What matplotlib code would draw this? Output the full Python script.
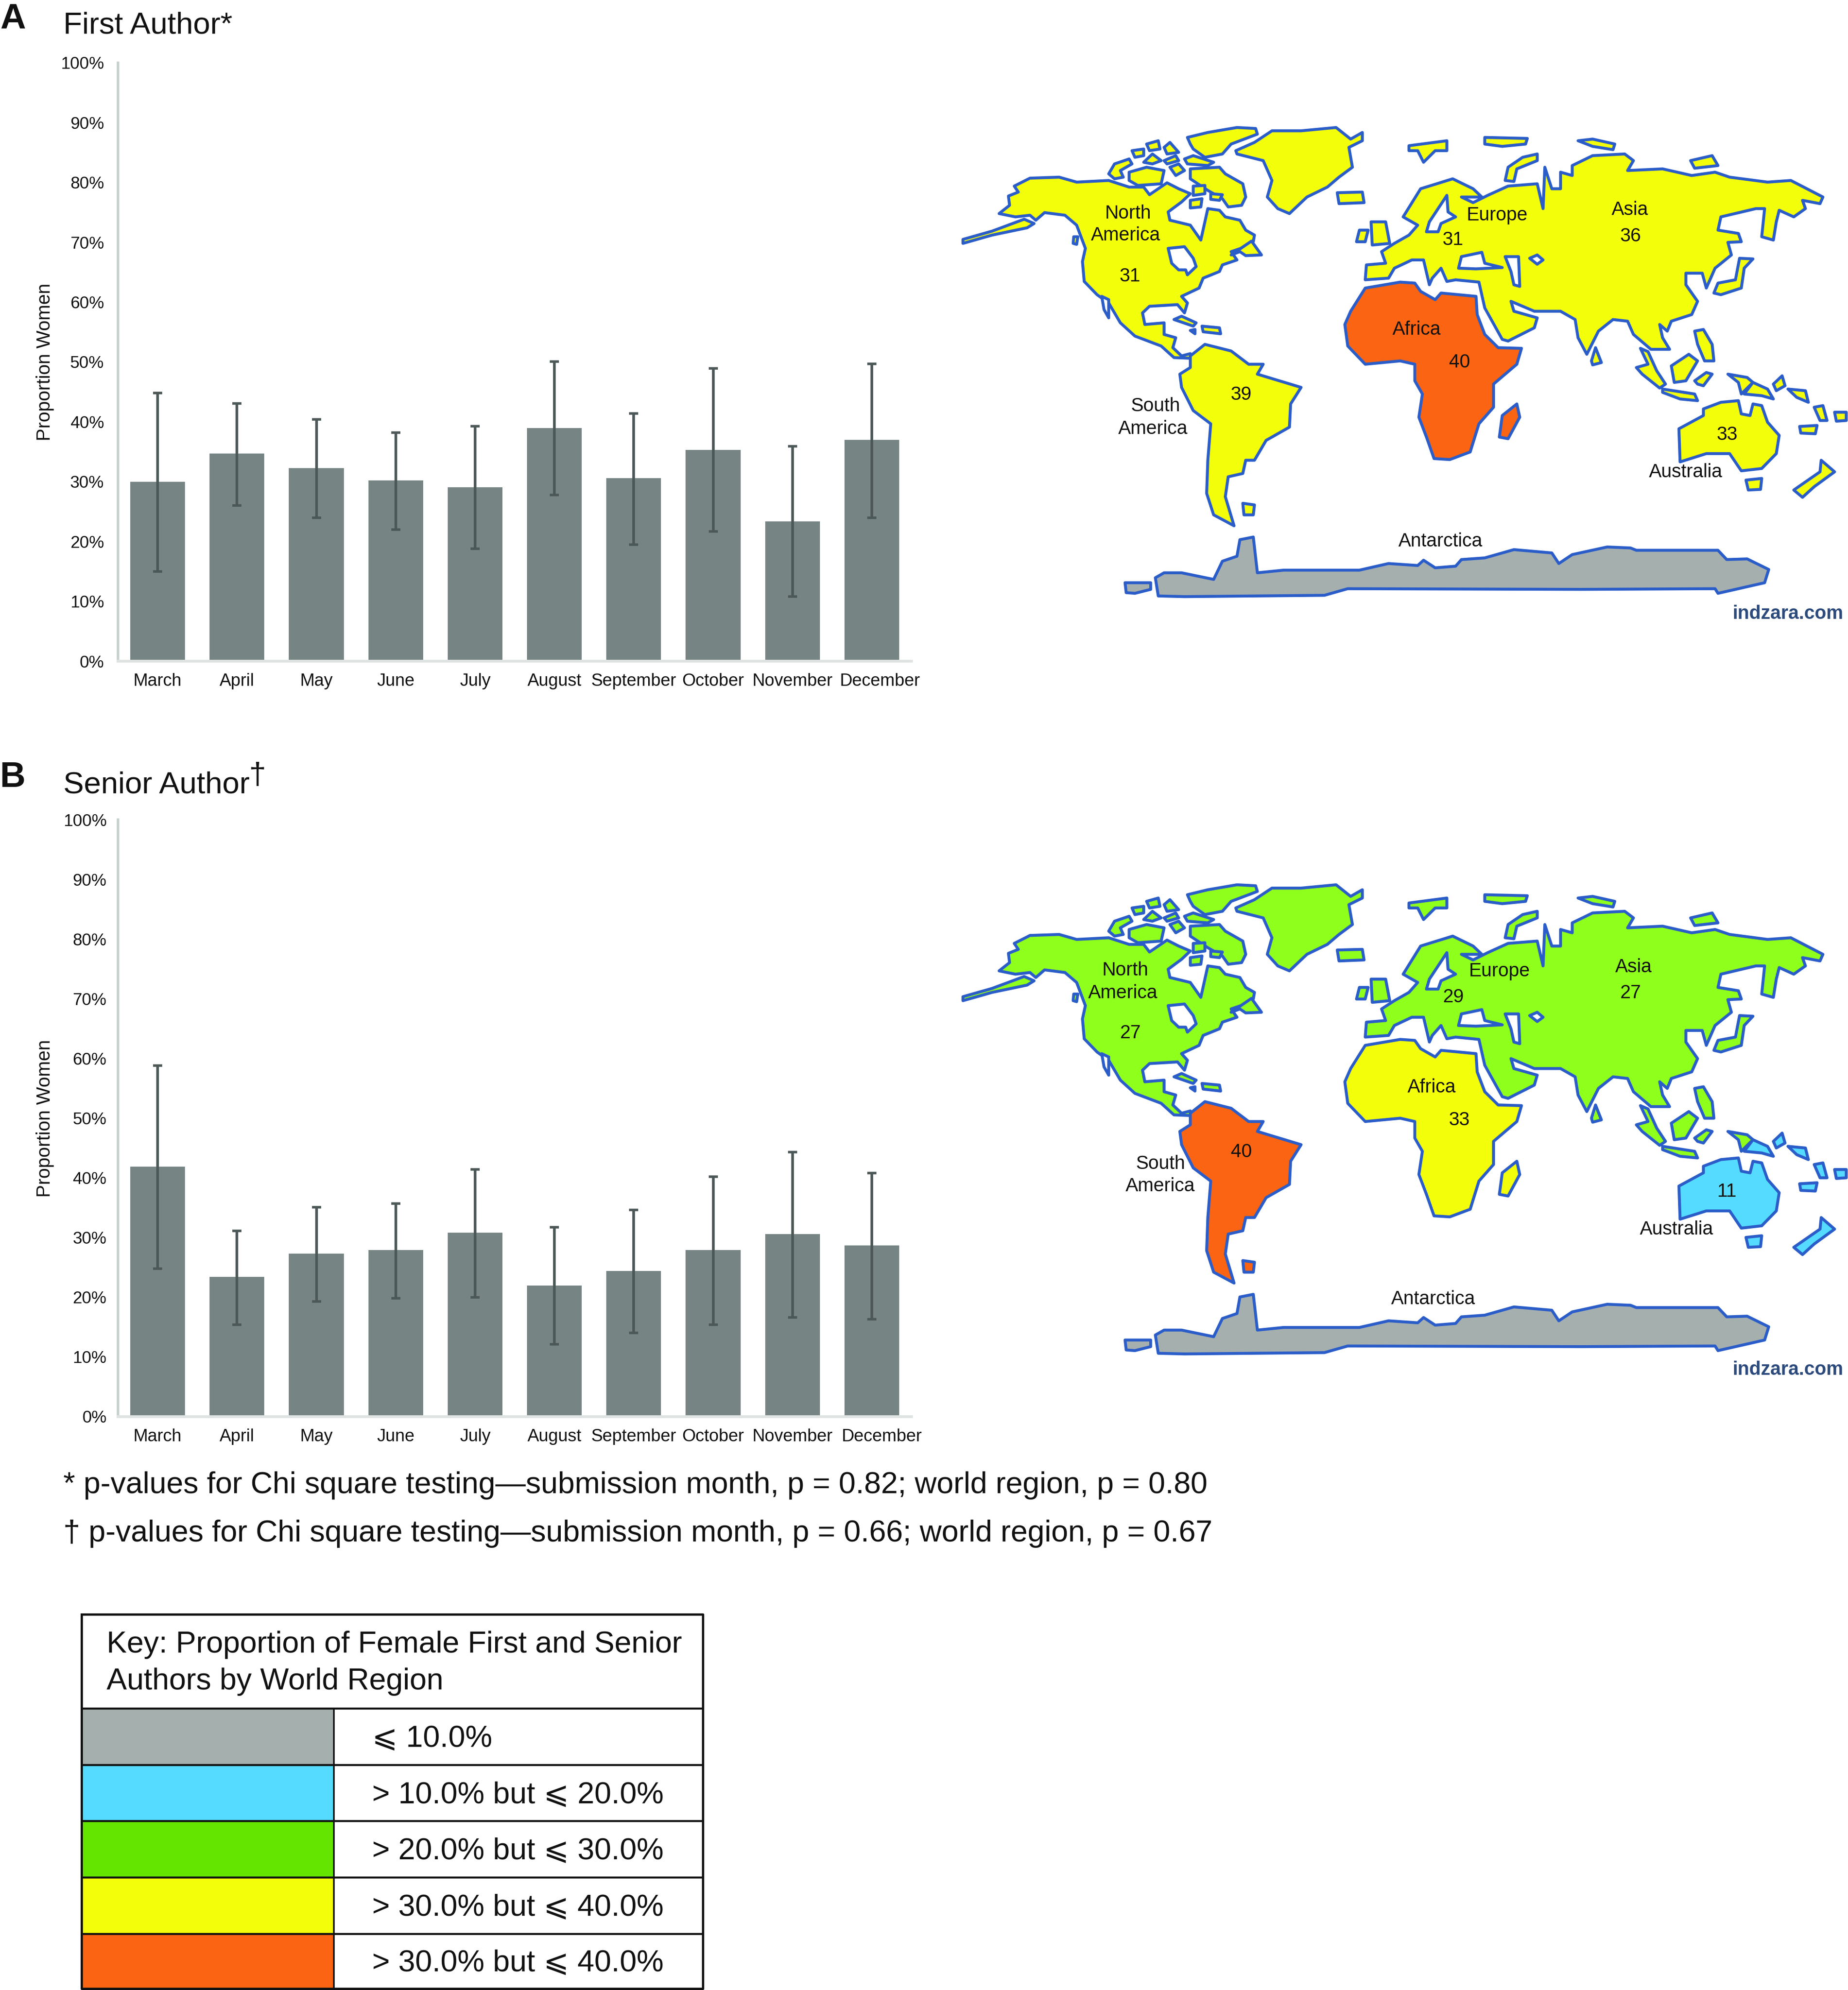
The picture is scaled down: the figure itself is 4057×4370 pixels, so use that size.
import matplotlib
matplotlib.use("Agg")
import matplotlib.pyplot as plt
from matplotlib.patches import Polygon, Rectangle
from matplotlib.transforms import ScaledTranslation

plt.rcParams['font.family'] = ['Liberation Sans', 'DejaVu Sans']

W, H, DPI = 4057, 4370, 100

months = ["March", "April", "May", "June", "July", "August", "September", "October", "November", "December"]
yticks = [0, 10, 20, 30, 40, 50, 60, 70, 80, 90, 100]

first_vals = [30.0, 34.7, 32.3, 30.2, 29.1, 39.0, 30.6, 35.3, 23.4, 37.0]
first_low = [15.0, 26.0, 24.0, 22.0, 18.8, 27.8, 19.5, 21.7, 10.8, 24.0]
first_high = [44.8, 43.1, 40.4, 38.2, 39.3, 50.1, 41.4, 48.9, 35.9, 49.7]

senior_vals = [41.9, 23.4, 27.3, 27.9, 30.8, 22.0, 24.4, 27.9, 30.6, 28.7]
senior_low = [24.8, 15.4, 19.3, 19.8, 20.0, 12.1, 14.0, 15.4, 16.6, 16.3]
senior_high = [58.8, 31.1, 35.1, 35.7, 41.4, 31.7, 34.6, 40.2, 44.3, 40.8]

BAR = "#768584"
ERR = "#4c5857"
YAX = "#c8d0cf"
XAX = "#dfe4e3"
YELLOW = "#f3ff0a"
ORANGE = "#fb6412"
MAPGREEN = "#8fff1c"
KEYGREEN = "#64e500"
BLUE = "#55dbff"
GRAY = "#a5afae"
OUTLINE = "#2b5dc9"

fig = plt.figure(figsize=(W / DPI, H / DPI), dpi=DPI, facecolor="white")


def make_axes(top, bottom, vals, low, high, ypad, dec_shift):
    left, right = 259, 2001
    ax = fig.add_axes([left / W, 1 - bottom / H, (right - left) / W, (bottom - top) / H])
    xs = list(range(len(vals)))
    ax.bar(xs, vals, width=0.69, color=BAR, zorder=2)
    ax.errorbar(xs, vals,
                yerr=[[v - l for v, l in zip(vals, low)], [h - v for v, h in zip(vals, high)]],
                fmt="none", ecolor=ERR, elinewidth=4.2, capsize=7.2, capthick=4.0, zorder=3)
    ax.set_xlim(-0.5, 9.5)
    ax.set_ylim(0, 100)
    ax.set_xticks(xs)
    ax.set_xticklabels(months, fontsize=27.5, color="#111111")
    ax.set_yticks(yticks)
    ax.set_yticklabels([f"{t}%" for t in yticks], fontsize=26.7, color="#111111")
    ax.tick_params(axis="x", length=0, pad=19)
    ax.tick_params(axis="y", length=0, pad=ypad)
    for s in ("top", "right"):
        ax.spines[s].set_visible(False)
    ax.spines["left"].set_color(YAX)
    ax.spines["left"].set_linewidth(4)
    ax.spines["bottom"].set_color(XAX)
    ax.spines["bottom"].set_linewidth(4.5)
    ax.set_ylabel("Proportion Women", fontsize=30, color="#111111")
    ax.yaxis.set_label_coords((119 - left) / (right - left), 0.5)
    lab = ax.get_xticklabels()[-1]
    lab.set_transform(lab.get_transform() + ScaledTranslation(dec_shift / DPI, 0, fig.dpi_scale_trans))
    return ax


make_axes(138, 1452, first_vals, first_low, first_high, 22, 18)
make_axes(1800, 3111, senior_vals, senior_low, senior_high, 18, 22)

ov = fig.add_axes([0, 0, 1, 1], facecolor="none")
ov.set_xlim(0, W)
ov.set_ylim(H, 0)
ov.axis("off")

# ---- base map outlines (crop coordinates) ----
north_america = [
    [(112,315),(130,290),(128,262),(145,250),(138,232),(165,208),(215,205),(245,220),(300,215),(335,235),(360,235),(370,258),(400,222),(420,240),(440,255),(425,280),(402,310),(405,335),(440,350),(458,395),(470,300),(490,305),(500,325),(525,335),(535,365),(550,380),(548,400),(535,415),(510,430),(520,455),(495,470),(490,490),(462,510),(455,540),(425,565),(435,585),(430,615),(418,590),(370,595),(358,615),(362,650),(395,645),(395,680),(415,690),(410,720),(425,745),(440,738),(440,752),(412,750),(390,715),(345,685),(320,645),(300,585),(280,560),(258,520),(255,460),(260,420),(245,350),(225,320),(190,312),(175,335),(165,320),(140,325)],
    [(50,405),(50,393),(100,368),(155,332),(172,345),(160,358),(100,380)],
    [(240,385),(247,385),(245,408),(239,405)],
    [(510,440),(545,398),(562,440),(535,442),(525,430)],
    [(300,195),(310,165),(335,150),(340,165),(320,185),(325,205),(310,210)],
    [(335,190),(365,175),(395,185),(390,225),(350,230),(335,215)],
    [(340,125),(360,120),(360,140),(345,145)],
    [(365,105),(385,95),(388,120),(370,125)],
    [(395,115),(405,100),(420,130),(400,135)],
    [(360,160),(375,135),(390,155),(375,165)],
    [(395,155),(415,140),(420,155),(400,165)],
    [(405,175),(420,165),(430,185),(415,200)],
    [(430,150),(445,140),(480,160),(470,170),(435,165)],
    [(435,85),(470,70),(520,55),(552,58),(555,75),(510,105),(495,135),(465,145),(445,120),(440,105)],
    [(440,180),(490,175),(500,195),(530,225),(535,265),(528,290),(505,295),(495,270),(470,245),(440,210)],
    [(445,232),(465,230),(465,255),(445,260)],
    [(440,275),(460,270),(458,295),(440,298)],
    [(475,255),(495,258),(490,275),(475,272)],
    [(518,125),(550,100),(580,65),(630,65),(690,55),(715,90),(735,70),(735,95),(712,115),(718,175),(695,205),(675,235),(640,265),(610,315),(590,300),(572,265),(580,215),(565,155),(520,135)],
    [(692,252),(735,250),(738,282),(695,285)],
    [(412,635),(425,625),(450,645),(445,655)],
    [(460,655),(490,660),(492,678),(462,672)],
    [(440,668),(448,665),(448,678)],
]
na_holes = [
    [(402,420),(430,415),(445,450),(450,475),(435,500),(432,485),(420,485),(408,465)],
    [(288,565),(300,575),(300,630),(292,605)],
]
eurasia = [
    [(740,515),(742,470),(775,465),(768,430),(790,405),(815,380),(830,350),(805,325),(835,240),(890,210),(925,240),(940,265),(905,265),(925,282),(950,260),(985,232),(1035,225),(1045,300),(1048,175),(1060,240),(1075,240),(1075,190),(1095,200),(1095,170),(1130,140),(1185,135),(1200,155),(1190,185),(1250,180),(1300,200),(1340,190),(1365,205),(1430,220),(1470,215),(1525,265),(1520,285),(1490,275),(1495,300),(1475,325),(1450,305),(1445,340),(1440,395),(1420,385),(1425,300),(1410,300),(1350,325),(1345,365),(1380,375),(1385,400),(1362,402),(1368,440),(1340,480),(1325,540),(1318,495),(1290,495),(1290,530),(1310,580),(1300,620),(1265,640),(1258,670),(1245,650),(1250,690),(1262,725),(1230,725),(1200,680),(1190,640),(1165,635),(1140,670),(1120,740),(1105,690),(1100,635),(1075,610),(1030,610),(990,580),(995,610),(1035,630),(1030,660),(985,700),(975,695),(945,600),(935,522),(895,515),(880,520),(870,480),(855,510),(850,530),(840,455),(820,455),(790,480),(780,510)],
    [(1212,722),(1225,732),(1240,790),(1255,830),(1245,842),(1215,800),(1205,780),(1225,770)],
    [(750,340),(775,340),(782,405),(752,410)],
    [(725,400),(730,365),(745,365),(740,400)],
    [(815,110),(880,95),(880,125),(860,125),(840,160),(830,125),(815,125)],
    [(945,85),(1018,88),(1015,105),(975,112),(945,105)],
    [(1105,95),(1130,90),(1168,105),(1165,122),(1130,112)],
    [(980,215),(985,175),(1010,145),(1035,135),(1035,155),(1000,180),(995,218)],
    [(1298,155),(1335,140),(1345,170),(1305,178)],
    [(1338,555),(1345,525),(1375,515),(1382,450),(1405,452),(1390,480),(1385,540),(1350,560)],
    [(1128,760),(1135,720),(1145,765),(1130,772)],
    [(1250,845),(1305,860),(1310,880),(1280,875),(1250,855)],
    [(1265,775),(1295,740),(1310,760),(1290,820),(1270,825)],
    [(1305,670),(1320,665),(1335,710),(1338,760),(1322,760),(1310,710)],
    [(1305,820),(1325,795),(1335,800),(1320,835),(1310,830)],
    [(1362,800),(1395,810),(1405,825),(1385,860),(1380,825)],
]
eurasia_holes = [
    [(850,340),(880,260),(882,310),(895,325),(870,345),(865,370),(845,370)],
    [(900,480),(905,445),(940,432),(945,465),(975,478),(930,482)],
    [(980,445),(1003,445),(1005,535),(995,530),(990,490)],
    [(1022,450),(1035,440),(1045,455),(1035,468)],
]
africa = [
    [(705,650),(715,610),(740,540),(800,522),(825,525),(835,550),(860,575),(870,555),(930,565),(932,620),(945,680),(968,720),(1008,722),(1000,770),(960,830),(960,900),(935,950),(920,1035),(885,1058),(858,1055),(845,990),(832,930),(838,860),(825,820),(825,770),(800,760),(740,770),(710,715)],
    [(970,990),(975,925),(1000,890),(1005,930),(985,995)],
]
south_america = [
    [(440,745),(465,710),(510,730),(540,770),(565,770),(555,800),(630,840),(612,890),(610,960),(570,1000),(550,1060),(535,1060),(530,1100),(505,1110),(500,1170),(515,1258),(480,1225),(468,1160),(470,1060),(475,950),(445,910),(425,840),(422,800),(440,780)],
    [(530,1190),(550,1195),(548,1225),(532,1225)],
]
oceania = [
    [(1278,965),(1320,925),(1320,905),(1350,885),(1380,880),(1385,920),(1400,925),(1405,890),(1420,895),(1430,945),(1450,985),(1445,1040),(1420,1085),(1385,1092),(1365,1040),(1325,1040),(1280,1065)],
    [(1405,825),(1430,845),(1440,875),(1420,865),(1390,860)],
    [(1440,830),(1455,805),(1460,835),(1445,850)],
    [(1465,845),(1495,850),(1500,885),(1480,870)],
    [(1510,900),(1525,895),(1532,940),(1520,940)],
    [(1545,915),(1565,915),(1565,940),(1548,942)],
    [(1485,958),(1515,955),(1512,980),(1487,978)],
    [(1475,1150),(1520,1095),(1522,1060),(1545,1095),(1510,1140),(1490,1172)],
    [(1393,1120),(1420,1115),(1418,1148),(1397,1150)],
]
antarctica = [
    [(380,1415),(395,1400),(425,1400),(480,1420),(495,1365),(520,1350),(525,1300),(548,1292),(555,1400),(600,1392),(730,1392),(780,1372),(830,1378),(840,1362),(860,1385),(895,1380),(905,1360),(945,1355),(995,1330),(1060,1340),(1072,1372),(1095,1345),(1155,1322),(1195,1325),(1205,1332),(1345,1332),(1360,1360),(1395,1358),(1432,1390),(1425,1430),(1345,1462),(1340,1448),(1110,1450),(710,1448),(670,1468),(430,1472),(385,1470)],
    [(328,1430),(372,1430),(372,1450),(345,1462),(330,1460)],
]


def draw_map(y0, colors):
    def conv(points):
        return [(2050 + x * 2007 / 1568, y0 + y * 1140 / 1568) for x, y in points]
    groups = [(north_america, colors[0]), (eurasia, colors[1]), (africa, colors[2]),
              (south_america, colors[3]), (oceania, colors[4]), (antarctica, GRAY),
              (na_holes, "white"), (eurasia_holes, "white")]
    for polys, col in groups:
        for p in polys:
            ov.add_patch(Polygon(conv(p), closed=True, facecolor=col, edgecolor=OUTLINE,
                                 linewidth=4.6, joinstyle="round", zorder=2))


def map_labels(y0, labels):
    for (s, x, y) in labels:
        ov.text(2053 + x * 2007 / 1568, y0 + 3 + y * 1140 / 1568, s, fontsize=30, color="#111111",
                ha="center", va="center", zorder=4)
    ov.text(2050 + 1465 * 2007 / 1568, y0 + 3 + 1520 * 1140 / 1568, "indzara.com",
            fontsize=30, fontweight="bold", color="#2c4a7c", ha="center", va="center", zorder=4)


labels_a = [("North", 331, 311), ("America", 327, 377), ("31", 334, 500), ("Europe", 964, 316),
            ("31", 888, 390), ("Asia", 1192, 300), ("36", 1193, 380), ("Africa", 826, 662),
            ("40", 899, 761), ("South", 378, 893), ("America", 374, 962), ("39", 525, 858),
            ("33", 1358, 979), ("Australia", 1287, 1092), ("Antarctica", 867, 1301)]
labels_b = [("North", 326, 313), ("America", 322, 383), ("27", 335, 503), ("Europe", 968, 317),
            ("29", 889, 395), ("Asia", 1198, 304), ("27", 1193, 383), ("Africa", 852, 667),
            ("33", 899, 766), ("South", 386, 898), ("America", 386, 966), ("40", 525, 862),
            ("11", 1358, 982), ("Australia", 1272, 1096), ("Antarctica", 854, 1306)]

draw_map(240, [YELLOW, YELLOW, ORANGE, YELLOW, YELLOW])
map_labels(240, labels_a)
draw_map(1903, [MAPGREEN, MAPGREEN, YELLOW, ORANGE, BLUE])
map_labels(1900, labels_b)

# ---- panel titles ----
ov.text(0, 42, "A", fontsize=56, fontweight="bold", color="#111111", va="center", ha="left")
ov.text(139, 57, "First Author*", fontsize=48.6, color="#111111", va="center", ha="left")
ov.text(0, 1708, "B", fontsize=56, fontweight="bold", color="#111111", va="center", ha="left")
ov.text(139, 1724, "Senior Author", fontsize=48.6, color="#111111", va="center", ha="left")
ov.text(547, 1704, "†", fontsize=48, color="#111111", va="center", ha="left")

# ---- footnotes ----
ov.text(139, 3262, "* p-values for Chi square testing—submission month, p = 0.82; world region, p = 0.80",
        fontsize=48, color="#111111", va="center", ha="left")
ov.text(139, 3368, "† p-values for Chi square testing—submission month, p = 0.66; world region, p = 0.67",
        fontsize=48, color="#111111", va="center", ha="left")

# ---- key ----
key_title = ["Key: Proportion of Female First and Senior", "Authors by World Region"]
key_labels = ["⩽ 10.0%", "> 10.0% but ⩽ 20.0%", "> 20.0% but ⩽ 30.0%", "> 30.0% but ⩽ 40.0%", "> 30.0% but ⩽ 40.0%"]
key_colors = [GRAY, BLUE, KEYGREEN, YELLOW, ORANGE]
row_edges = [3752, 3876, 3999, 4123, 4247, 4367]
kx0, kx1, kdiv, ktop = 179, 1543, 733, 3545

for col, a, b, s in zip(key_colors, row_edges[:-1], row_edges[1:], key_labels):
    ov.add_patch(Rectangle((kx0, a), kdiv - kx0, b - a, facecolor=col, edgecolor="none", zorder=2))
    ov.plot([kx0, kx1], [a, a], color="#111111", lw=3.2, zorder=3, solid_capstyle="butt")
    ov.text(817, (a + b) / 2 + 5, s, fontsize=48, color="#111111", va="center", ha="left", zorder=4)
ov.plot([kx0, kx0, kx1, kx1, kx0], [ktop, row_edges[-1], row_edges[-1], ktop, ktop],
        color="#111111", lw=3.6, zorder=5)
ov.plot([kdiv, kdiv], [row_edges[0], row_edges[-1]], color="#111111", lw=2.6, zorder=3)
ov.text(234, 3612, key_title[0], fontsize=48, color="#111111", va="center", ha="left")
ov.text(234, 3693, key_title[1], fontsize=48, color="#111111", va="center", ha="left")

fig.savefig("out.png", dpi=DPI, facecolor="white")
